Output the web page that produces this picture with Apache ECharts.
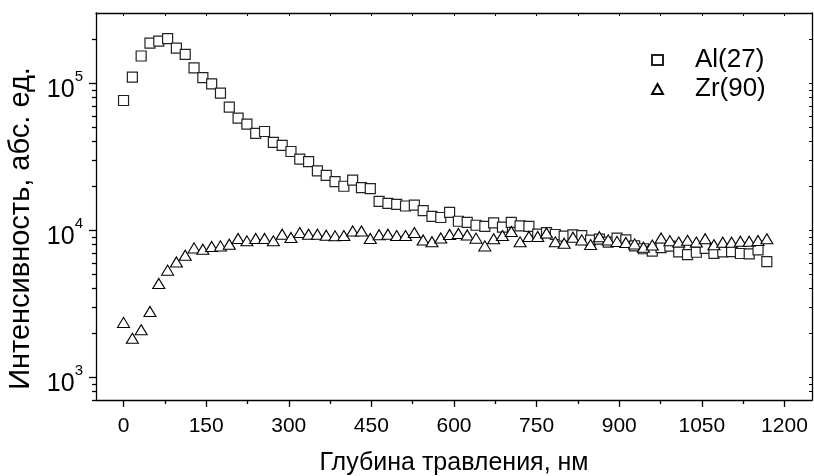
<!DOCTYPE html>
<html>
<head>
<meta charset="utf-8">
<script src="https://cdn.jsdelivr.net/npm/echarts@6/dist/echarts.min.js"></script>
<style>
  html, body { margin: 0; padding: 0; background: #fff; }
  #main { width: 814px; height: 476px; }
</style>
</head>
<body>
<div id="main"></div>
<script>
// глубина травления, нм
var depth = [0, 16, 32, 48, 64, 80, 96, 112, 128, 144, 160, 176, 192, 208, 224, 240, 256, 272, 288, 304,
    320, 336, 352, 368, 384, 400, 416, 432, 448, 464, 480, 496, 512, 528, 544, 560, 576, 592, 608, 624,
    640, 656, 672, 688, 704, 720, 736, 752, 768, 784, 800, 816, 832, 848, 864, 880, 896, 912, 928, 944,
    960, 976, 992, 1008, 1024, 1040, 1056, 1072, 1088, 1104, 1120, 1136, 1152, 1168];

var al27 = [76200, 110000, 153000, 187000, 193000, 201000, 173000, 157000, 127000, 109000,
    98900, 85500, 68700, 57800, 52600, 45500, 46900, 39500, 37700, 34300,
    30400, 29300, 25300, 23600, 21400, 19900, 21900, 19500, 19200, 15700,
    15200, 15000, 14600, 14800, 13600, 12400, 12200, 13200, 11500, 11300,
    10800, 10600, 11200, 10500, 11300, 10700, 10600, 9390, 9640, 9350,
    9100, 9300, 9180, 8550, 8690, 8290, 8830, 8590, 7820, 7480,
    7200, 7600, 7780, 7120, 6810, 7080, 7520, 6950, 7120, 7140,
    6940, 6900, 7340, 6120];

var zr90 = [2360, 1840, 2100, 2800, 4340, 5350, 6080, 6760, 7580, 7430,
    7750, 7820, 8030, 8780, 8460, 8780, 8780, 8460, 9390, 8920,
    9640, 9390, 9390, 9250, 9150, 9200, 9880, 9880, 8780, 9320,
    9390, 9200, 9200, 9640, 8580, 8350, 8850, 9360, 9500, 9280,
    8830, 7820, 8740, 9200, 9800, 8330, 9060, 9060, 9570, 8330,
    8160, 8960, 8590, 7990, 9030, 8590, 8390, 8250, 8070, 7660,
    7930, 8850, 8490, 8310, 8530, 8310, 8750, 7970, 8290, 8290,
    8420, 8420, 8510, 8740];

var xTicks = [0, 150, 300, 450, 600, 750, 900, 1050, 1200];
var xMinorTicks = [75, 225, 375, 525, 675, 825, 975, 1125];
var yTicks = [1000, 10000, 100000];
var yMinorTicks = [700, 800, 900, 2000, 3000, 4000, 5000, 6000, 7000, 8000, 9000,
    20000, 30000, 40000, 50000, 60000, 70000, 80000, 90000, 200000];

var chart = echarts.init(document.getElementById('main'));

var font = 'Liberation Sans, Arial, sans-serif';
var black = '#000';
var xMin = -50, xMax = 1250, yMin = 700, yMax = 300000;

function pairs(ys) {
    var out = [];
    for (var i = 0; i < depth.length; i++) out.push([depth[i], ys[i]]);
    return out;
}

var option = {
    animation: false,
    backgroundColor: '#fff',
    grid: { left: 96, right: 2, top: 13, bottom: 76, outerBoundsMode: 'none', containLabel: false },
    legend: {
        orient: 'vertical',
        left: 646,
        top: 42,
        itemWidth: 11,
        itemHeight: 10,
        itemGap: 3,
        textStyle: { fontFamily: font, fontSize: 26, color: black, padding: [0, 0, 0, 27] },
        data: ['Al(27)', 'Zr(90)']
    },
    xAxis: [
        {
            type: 'value', position: 'bottom', min: xMin, max: xMax,
            name: 'Глубина травления, нм', nameLocation: 'middle', nameGap: 51,
            nameTextStyle: { fontFamily: font, fontSize: 25, color: black },
            axisLine: { onZero: false, lineStyle: { color: black, width: 1.3 } },
            axisTick: { customValues: xTicks, length: 7, lineStyle: { color: black, width: 1.3 } },
            axisLabel: {
                customValues: xTicks, margin: 16, fontFamily: font, fontSize: 21, color: black,
                formatter: function (v) { return String(v); }
            },
            splitLine: { show: false }
        },
        {
            type: 'value', position: 'bottom', min: xMin, max: xMax,
            axisLine: { show: false, onZero: false },
            axisTick: { customValues: xMinorTicks, length: 4, lineStyle: { color: black, width: 1.3 } },
            axisLabel: { show: false },
            splitLine: { show: false }
        },
        {
            type: 'value', position: 'top', min: xMin, max: xMax,
            axisLine: { onZero: false, lineStyle: { color: black, width: 1.3 } },
            axisTick: { customValues: xTicks.concat(xMinorTicks), inside: true, length: 3, lineStyle: { color: black } },
            axisLabel: { show: false },
            splitLine: { show: false }
        }
    ],
    yAxis: [
        {
            type: 'log', logBase: 10, position: 'left', min: yMin, max: yMax,
            name: 'Интенсивность, абс. ед.', nameLocation: 'middle', nameGap: 58,
            nameTextStyle: { fontFamily: font, fontSize: 29, color: black, padding: [0, 44, 0, 0] },
            axisLine: { show: true, onZero: false, lineStyle: { color: black, width: 1.3 } },
            axisTick: { customValues: yTicks, length: 7, lineStyle: { color: black, width: 1.3 } },
            axisLabel: {
                customValues: yTicks, margin: 13, padding: [5, 0, 0, 0],
                formatter: function (v) {
                    return '{b|10}{s|' + Math.round(Math.log10(v)) + '}';
                },
                rich: {
                    b: { fontFamily: font, fontSize: 25, color: black, padding: [8, 0, 0, 0] },
                    s: { fontFamily: font, fontSize: 15, color: black, verticalAlign: 'top' }
                }
            },
            splitLine: { show: false }
        },
        {
            type: 'log', logBase: 10, position: 'left', min: yMin, max: yMax,
            axisLine: { show: false, onZero: false },
            axisTick: { customValues: yMinorTicks, length: 4, lineStyle: { color: black, width: 1.3 } },
            axisLabel: { show: false },
            splitLine: { show: false }
        },
        {
            type: 'log', logBase: 10, position: 'right', min: yMin, max: yMax,
            axisLine: { show: true, onZero: false, lineStyle: { color: black, width: 1.3 } },
            axisTick: { customValues: yTicks.concat(yMinorTicks), inside: true, length: 3, lineStyle: { color: black } },
            axisLabel: { show: false },
            splitLine: { show: false }
        }
    ],
    series: [
        {
            name: 'Al(27)', type: 'scatter', xAxisIndex: 0, yAxisIndex: 0,
            symbol: 'rect', symbolSize: 10,
            itemStyle: { color: '#fff', borderColor: '#222', borderWidth: 1.2, opacity: 1 },
            data: pairs(al27)
        },
        {
            name: 'Zr(90)', type: 'scatter', xAxisIndex: 0, yAxisIndex: 0,
            symbol: 'triangle', symbolSize: [12, 10],
            itemStyle: { color: '#fff', borderColor: '#000', borderWidth: 1.1, opacity: 1 },
            data: pairs(zr90)
        }
    ]
};

chart.setOption(option);
</script>
</body>
</html>
